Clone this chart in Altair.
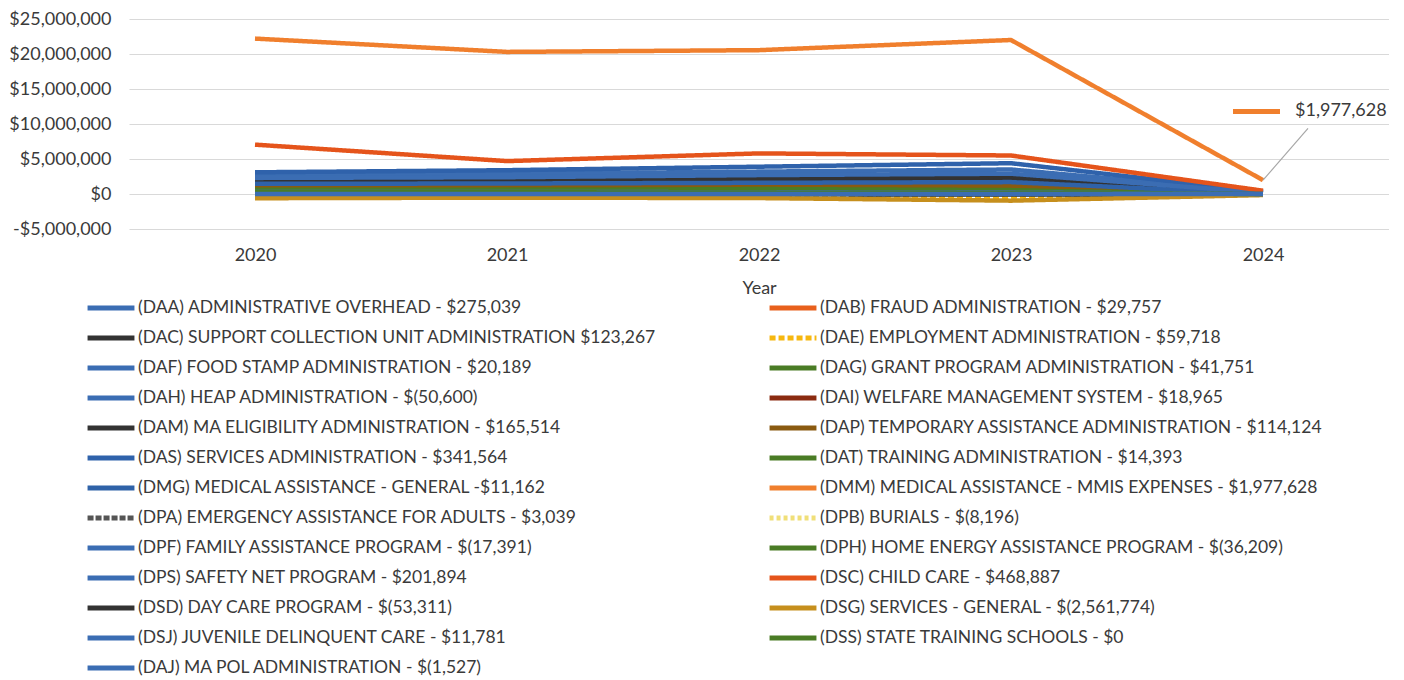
import altair as alt
import pandas as pd

years = ["2020", "2021", "2022", "2023", "2024"]

series = [
    "(DAA) ADMINISTRATIVE OVERHEAD - $275,039",
    "(DAB) FRAUD ADMINISTRATION - $29,757",
    "(DAC) SUPPORT COLLECTION UNIT ADMINISTRATION $123,267",
    "(DAE) EMPLOYMENT ADMINISTRATION - $59,718",
    "(DAF) FOOD STAMP ADMINISTRATION - $20,189",
    "(DAG) GRANT PROGRAM ADMINISTRATION - $41,751",
    "(DAH) HEAP ADMINISTRATION - $(50,600)",
    "(DAI) WELFARE MANAGEMENT SYSTEM - $18,965",
    "(DAM) MA ELIGIBILITY ADMINISTRATION - $165,514",
    "(DAP) TEMPORARY ASSISTANCE ADMINISTRATION - $114,124",
    "(DAS) SERVICES ADMINISTRATION - $341,564",
    "(DAT) TRAINING ADMINISTRATION - $14,393",
    "(DMG) MEDICAL ASSISTANCE - GENERAL -$11,162",
    "(DMM) MEDICAL ASSISTANCE - MMIS EXPENSES - $1,977,628",
    "(DPA) EMERGENCY ASSISTANCE FOR ADULTS - $3,039",
    "(DPB) BURIALS - $(8,196)",
    "(DPF) FAMILY ASSISTANCE PROGRAM - $(17,391)",
    "(DPH) HOME ENERGY ASSISTANCE PROGRAM - $(36,209)",
    "(DPS) SAFETY NET PROGRAM - $201,894",
    "(DSC) CHILD CARE - $468,887",
    "(DSD) DAY CARE PROGRAM - $(53,311)",
    "(DSG) SERVICES - GENERAL - $(2,561,774)",
    "(DSJ) JUVENILE DELINQUENT CARE - $11,781",
    "(DSS) STATE TRAINING SCHOOLS - $0",
    "(DAJ) MA POL ADMINISTRATION - $(1,527)",
]

colors = [
    "#3b6db3", "#e8601c", "#333333", "#f6b70f", "#3b6db3",
    "#4a7c25", "#3b6db3", "#8b2b10", "#333333", "#8a5a10",
    "#2f62ab", "#4a7c25", "#2f62a8", "#f07f2d", "#555555",
    "#f0df78", "#3b6db3", "#4a7c25", "#3b6db3", "#e5541b",
    "#333333", "#c68f1d", "#3b6db3", "#4a7c25", "#3b6db3",
]

dashes = [
    [1, 0], [1, 0], [1, 0], [6, 3], [1, 0],
    [1, 0], [1, 0], [1, 0], [1, 0], [1, 0],
    [1, 0], [1, 0], [1, 0], [1, 0], [6, 2],
    [4, 3], [1, 0], [1, 0], [1, 0], [1, 0],
    [1, 0], [1, 0], [1, 0], [1, 0], [1, 0],
]

v2020 = [2650000, 100000, 1700000, -300000, 450000, 950000, 150000, 60000, 2000000, 1150000,
         3100000, 600000, 1450000, 22200000, 20000, 10000, 50000, 60000, 2300000, 7050000,
         -50000, -600000, 300000, 250000, 10000]
v2021 = [2900000, 100000, 1800000, -280000, 450000, 900000, 150000, 60000, 2100000, 1200000,
         3400000, 600000, 1500000, 20300000, 20000, 10000, 50000, 50000, 2400000, 4700000,
         -50000, -520000, 300000, 250000, 10000]
v2022 = [3200000, 110000, 2000000, -320000, 400000, 850000, 140000, 55000, 2300000, 1350000,
         3900000, 550000, 1600000, 20550000, 20000, 10000, 40000, 50000, 2700000, 5800000,
         -50000, -580000, 250000, 200000, 10000]
v2023 = [3500000, 100000, 2100000, -380000, 350000, 750000, 100000, 50000, 2500000, 1200000,
         4400000, 500000, 1700000, 22000000, 15000, 10000, 40000, 40000, 2900000, 5500000,
         -60000, -950000, 200000, 150000, 10000]
v2024 = [275039, 29757, 123267, 59718, 20189, 41751, -50600, 18965, 165514, 114124,
         341564, 14393, 11162, 1977628, 3039, -8196, -17391, -36209, 201894, 468887,
         -53311, -150000, 11781, 0, -1527]

y_ticks = [-5000000, 0, 5000000, 10000000, 15000000, 20000000, 25000000]

callout_year = ["2024"]
callout_value = [1977628]
callout_label_level = [11800000]
callout_text = ["$1,977,628"]

rows = []
for i, s in enumerate(series):
    for yr, vals in zip(years, [v2020, v2021, v2022, v2023, v2024]):
        rows.append({"series": s, "order": i, "year": yr, "value": vals[i]})
df = pd.DataFrame(rows)

callout = pd.DataFrame({
    "year": callout_year,
    "value": callout_value,
    "level": callout_label_level,
    "text": callout_text,
})

# Vega fills legend columns top-to-bottom; interleave so the entries read row by row.
legend_order = series[0::2] + series[1::2]
color_by = dict(zip(series, colors))
dash_by = dict(zip(series, [tuple(d) for d in dashes]))
legend_colors = [color_by[s] for s in legend_order]
legend_dashes = [list(dash_by[s]) for s in legend_order]

FONT = "Lato"
TXT = "#3a3a3a"

x_enc = alt.X("year:O", scale=alt.Scale(domain=years, type="point", padding=0.5),
              axis=alt.Axis(title="Year", labelAngle=0, domain=False, ticks=False, grid=False,
                            labelFont=FONT, labelFontSize=18, labelColor=TXT, labelPadding=17,
                            titleFont=FONT, titleFontSize=18, titleFontWeight="normal",
                            titleColor=TXT, titlePadding=15))
y_scale = alt.Scale(domain=[-5000000, 25000000], nice=False, zero=False)

legend = alt.Legend(
    title=None, orient="none", legendX=-44, legendY=279, columns=2, columnPadding=110,
    rowPadding=10, clipHeight=20, symbolType="stroke", symbolSize=2200, symbolStrokeWidth=5,
    labelFont=FONT, labelFontSize=17.5, labelColor=TXT, labelLimit=900, labelOffset=1,
    padding=0, symbolOffset=0,
)

lines = alt.Chart(df).mark_line(strokeWidth=4.5, strokeJoin="round").encode(
    x=x_enc,
    y=alt.Y("value:Q", scale=y_scale,
            axis=alt.Axis(title=None, values=y_ticks, tickCount=len(y_ticks), domain=False,
                          ticks=False, grid=True, gridColor="#d9d9d9", gridWidth=1,
                          labelOverlap=False,
                          labelFont=FONT, labelFontSize=18, labelColor=TXT, labelPadding=18,
                          labelExpr="datum.value < 0 ? '-$' + format(-datum.value, ',') : '$' + format(datum.value, ',')")),
    color=alt.Color("series:N", scale=alt.Scale(domain=legend_order, range=legend_colors), legend=legend),
    strokeDash=alt.StrokeDash("series:N", scale=alt.Scale(domain=legend_order, range=legend_dashes), legend=legend),
    order=alt.Order("order:Q"),
)

leader = alt.Chart(callout).mark_rule(color="#a6a6a6", strokeWidth=1.2, x2Offset=45, y2Offset=17).encode(
    x="year:O", y="value:Q", x2="year:O", y2="level:Q",
)
key = alt.Chart(callout).mark_rule(color="#f07f2d", strokeWidth=5, xOffset=-30, x2Offset=17).encode(
    x="year:O", x2="year:O", y="level:Q",
)
label = alt.Chart(callout).mark_text(align="left", baseline="middle", dx=32, font=FONT,
                                      fontSize=18, color=TXT).encode(
    x="year:O", y="level:Q", text="text:N",
)

chart = alt.layer(lines, leader, key, label).properties(
    width=1260, height=210,
    padding={"left": 0, "top": 2, "right": 0, "bottom": 0},
    background="white",
).configure_view(stroke=None)

chart.save("out.html", embed_options={"renderer": "svg", "actions": False})
